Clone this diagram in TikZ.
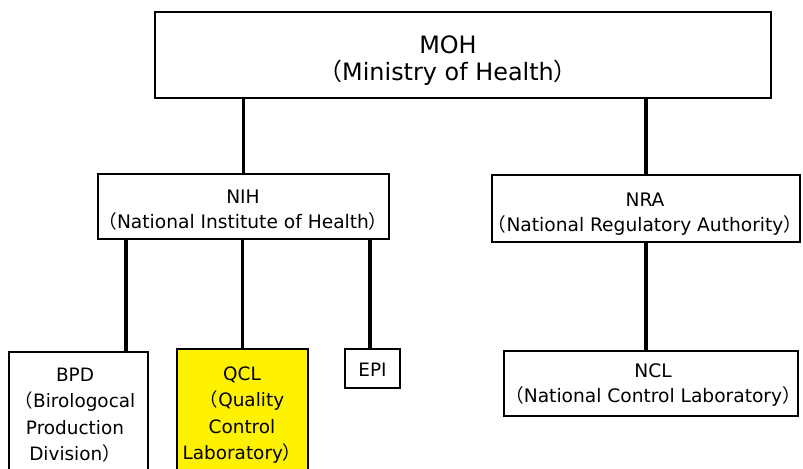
\documentclass[tikz,border=0pt]{standalone}
\usepackage{fontspec}
\setmainfont{DejaVu Sans}
\newfontfamily\cjkfont{Noto Sans CJK JP}
\newcommand\myl{{\cjkfont （}}
\newcommand\myr{{\cjkfont ）}}
\begin{document}
\begin{tikzpicture}[x=1bp,y=-1bp,
  box/.style={draw,line width=2bp,inner sep=0pt,anchor=center},
  txt/.style={align=center,inner sep=0pt,anchor=center},
  big/.style={font=\fontsize{24}{27.3}\selectfont},
  mid/.style={font=\fontsize{18.7}{25}\selectfont},
  sml/.style={font=\fontsize{18.5}{26.5}\selectfont},
  conn/.style={line width=3.5bp}]
\useasboundingbox (0,0) rectangle (803,469);
% boxes
\node[box,minimum width=616bp,minimum height=86bp] (moh) at (463,55) {};
\node[box,minimum width=291bp,minimum height=65bp] (nih) at (243.5,206.5) {};
\node[box,minimum width=308bp,minimum height=67bp] (nra) at (646,208.5) {};
\node[box,minimum width=294bp,minimum height=65bp] (ncl) at (651,383.5) {};
\node[box,minimum width=139bp,minimum height=128bp] (bpd) at (78.5,416) {};
\node[box,fill=yellow,minimum width=131bp,minimum height=131bp] (qcl) at (242.5,414.5) {};
\node[box,minimum width=55bp,minimum height=39bp] (epi) at (372.5,368.5) {};
% texts
\node[txt,big] (mohT) at (448,61) {MOH\\\myl Ministry of Health\myr};
\node[txt,mid] (nihT) at (243,210) {NIH\\\myl National Institute of Health\myr};
\node[txt,mid] (nraT) at (645,214.5) {NRA\\\myl National Regulatory Authority\myr};
\node[txt,mid] (nclT) at (653,385) {NCL\\\myl National Control Laboratory\myr};
\node[txt,sml] (bpdT) at (75,415) {BPD\\\myl Birologocal\\Production\\Division\myr};
\node[txt,sml] (qclT) at (242,415) {QCL\\\myl Quality\\Control\\Laboratory\myr};
\node[txt,sml] (epiT) at (372.5,370) {EPI};
% connectors
\coordinate (b1) at (126,352);
\coordinate (b3) at (370,349);
\draw[conn] (nih.north) -- (nih.north |- moh.south);
\draw[conn] (nra.north) -- (nra.north |- moh.south);
\draw[conn] (nra.south) -- (nra.south |- ncl.north);
\draw[conn] (b1 |- nih.south) -- (b1);
\draw[conn] (qcl.north |- nih.south) -- (qcl.north);
\draw[conn] (b3 |- nih.south) -- (b3);
\end{tikzpicture}
\end{document}
